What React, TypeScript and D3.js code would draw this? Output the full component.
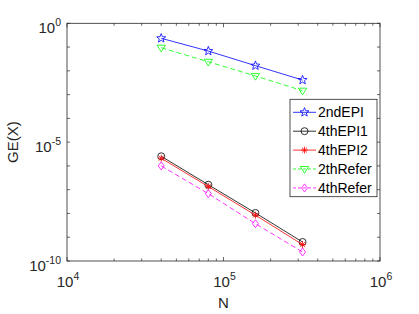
import React from "react";
import * as d3 from "d3";

const Ns = [40000, 80000, 160000, 320000];
const epi2nd = [0.234, 0.068, 0.0165, 0.0041];
const refer2th = [0.094, 0.024, 0.0061, 0.00146];
const epi4th1 = [2.54e-6, 1.62e-7, 1.05e-8, 6.3e-10];
const epi4th2 = [2.1e-6, 1.35e-7, 8.5e-9, 4.9e-10];
const refer4th = [1.0e-6, 6.8e-8, 3.7e-9, 2.4e-10];

const seriesNames = ["2ndEPI", "4thEPI1", "4thEPI2", "2thRefer", "4thRefer"];
const seriesData = [epi2nd, epi4th1, epi4th2, refer2th, refer4th];
const seriesColors = ["#0000ff", "#000000", "#ff0000", "#00ff00", "#ff00ff"];
const seriesDash = ["", "", "", "5,3", "5,3"];
const seriesMarker = ["star", "circle", "asterisk", "tri", "diamond"];

const xTickExps = [4, 5, 6];
const yTickExps = [0, -5, -10];

const L = 67, R = 380, T = 23.3, B = 261;
const axisColor = "#262626";
const font = "Liberation Sans, Arial, Helvetica, sans-serif";

function Marker({ type, x, y, color }: { type: string; x: number; y: number; color: string }) {
  const sw = 0.8;
  if (type === "circle") return <circle cx={x} cy={y} r={3.5} fill="none" stroke={color} strokeWidth={sw} />;
  if (type === "star") {
    const pts: string[] = [];
    for (let i = 0; i < 10; i++) {
      const r = i % 2 === 0 ? 4.7 : 2.0;
      const a = -Math.PI / 2 + (i * Math.PI) / 5;
      pts.push(`${x + r * Math.cos(a)},${y + r * Math.sin(a)}`);
    }
    return <polygon points={pts.join(" ")} fill="none" stroke={color} strokeWidth={sw} />;
  }
  if (type === "asterisk") {
    const r = 3.5;
    const lines = [0, 45, 90, 135].map((deg) => {
      const a = (deg * Math.PI) / 180;
      return <line key={deg} x1={x - r * Math.cos(a)} y1={y - r * Math.sin(a)} x2={x + r * Math.cos(a)} y2={y + r * Math.sin(a)} stroke={color} strokeWidth={sw} />;
    });
    return <g>{lines}</g>;
  }
  if (type === "tri") {
    const r = 4.2;
    return <polygon points={`${x - r},${y - r * 0.6} ${x + r},${y - r * 0.6} ${x},${y + r}`} fill="none" stroke={color} strokeWidth={sw} />;
  }
  if (type === "diamond") {
    const r = 4;
    return <polygon points={`${x},${y - r} ${x + r * 0.75},${y} ${x},${y + r} ${x - r * 0.75},${y}`} fill="none" stroke={color} strokeWidth={sw} />;
  }
  return null;
}

export default function App() {
  const x = d3.scaleLog().domain([1e4, 1e6]).range([L, R]);
  const y = d3.scaleLog().domain([1e-10, 1]).range([B, T]);
  const line = d3.line<number[]>().x((d) => x(d[0])).y((d) => y(d[1]));

  const xMinor: number[] = [];
  for (let e = 4; e < 6; e++) for (let m = 1; m <= 9; m++) xMinor.push(m * Math.pow(10, e));
  xMinor.push(1e6);
  const yMajor: number[] = [];
  for (let e = -10; e <= 0; e++) yMajor.push(Math.pow(10, e));

  const tl = 3;
  const legX = 290, legY = 99.3, legW = 87, legH = 97.4;
  return (
    <svg width={419} height={314} style={{ position: "absolute", left: 0, top: 0, background: "#fff" }}>
      <rect x={0} y={0} width={419} height={314} fill="#fff" />
      <rect x={L} y={T} width={R - L} height={B - T} fill="#fff" stroke={axisColor} strokeWidth={0.8} />
      {xMinor.map((v, i) => {
        const isMajor = Math.abs(Math.log10(v) - Math.round(Math.log10(v))) < 1e-9;
        const len = isMajor ? tl + 1 : tl - 0.5;
        return (
          <g key={"xm" + i}>
            <line x1={x(v)} x2={x(v)} y1={B} y2={B - len} stroke={axisColor} strokeWidth={0.7} />
            <line x1={x(v)} x2={x(v)} y1={T} y2={T + len} stroke={axisColor} strokeWidth={0.7} />
          </g>
        );
      })}
      {yMajor.map((v, i) => (
        <g key={"ym" + i}>
          <line x1={L} x2={L + tl} y1={y(v)} y2={y(v)} stroke={axisColor} strokeWidth={0.7} />
          <line x1={R} x2={R - tl} y1={y(v)} y2={y(v)} stroke={axisColor} strokeWidth={0.7} />
        </g>
      ))}
      {xTickExps.map((e) => (
        <text key={"xt" + e} x={x(Math.pow(10, e)) + 1} y={286.5} textAnchor="middle" fontFamily={font} fontSize={15} fill={axisColor}>
          10<tspan dy={-7} fontSize={10.5}>{e}</tspan>
        </text>
      ))}
      {yTickExps.map((e) => (
        <text key={"yt" + e} x={L - 6} y={y(Math.pow(10, e)) + 9.5} textAnchor="end" fontFamily={font} fontSize={15} fill={axisColor}>
          10<tspan dy={-7} fontSize={10.5}>{e}</tspan>
        </text>
      ))}
      <text x={(L + R) / 2} y={307.5} textAnchor="middle" fontFamily={font} fontSize={15} fill={axisColor}>N</text>
      <text transform={`translate(17.5,${(T + B) / 2}) rotate(-90)`} textAnchor="middle" fontFamily={font} fontSize={15} fill={axisColor}>GE(X)</text>

      {seriesData.map((vals, si) => {
        const pts = vals.map((v, i) => [Ns[i], v]);
        return (
          <g key={"s" + si}>
            <path d={line(pts) || ""} fill="none" stroke={seriesColors[si]} strokeWidth={0.8} strokeDasharray={seriesDash[si]} />
            {pts.map((p, i) => (
              <Marker key={i} type={seriesMarker[si]} x={x(p[0])} y={y(p[1])} color={seriesColors[si]} />
            ))}
          </g>
        );
      })}

      <rect x={legX} y={legY} width={legW} height={legH} fill="#fff" stroke={axisColor} strokeWidth={0.8} />
      {seriesNames.map((name, i) => {
        const ly = legY + 13 + i * 18.9;
        return (
          <g key={"l" + i}>
            <line x1={legX + 3} x2={legX + 26} y1={ly} y2={ly} stroke={seriesColors[i]} strokeWidth={0.8} strokeDasharray={seriesDash[i] ? "3,2" : ""} />
            <Marker type={seriesMarker[i]} x={legX + 14.5} y={ly} color={seriesColors[i]} />
            <text x={legX + 28} y={ly + 5} fontFamily={font} fontSize={14} fill="#000">{name}</text>
          </g>
        );
      })}
    </svg>
  );
}
